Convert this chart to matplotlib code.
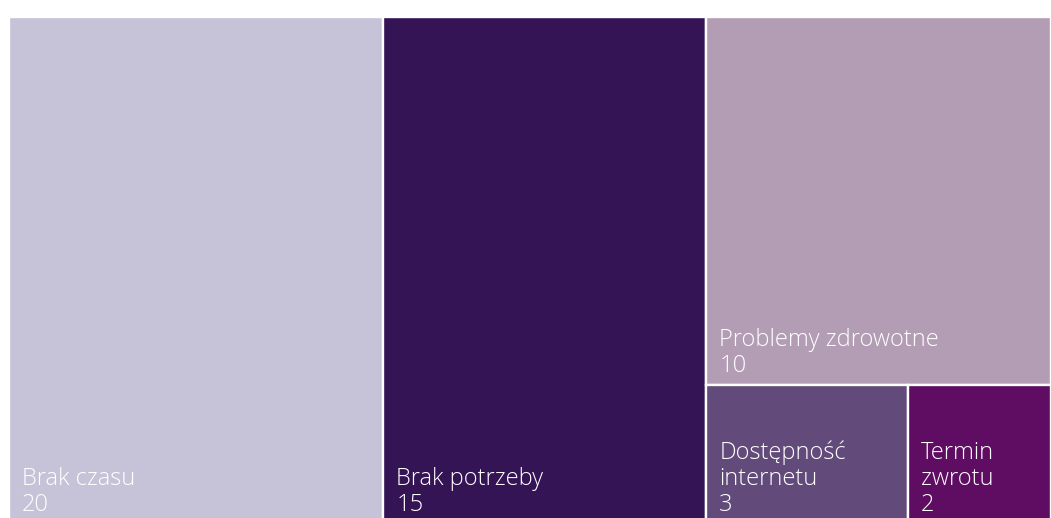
import matplotlib
matplotlib.use("Agg")
import matplotlib.pyplot as plt
from matplotlib.patches import Rectangle

# data
labels = ["Brak czasu", "Brak potrzeby", "Problemy zdrowotne", "Dostępność\ninternetu", "Termin\nzwrotu"]
values = [20, 15, 10, 3, 2]
# tile areas as drawn in the source (not strictly proportional to the values)
areas = [35.9, 31.0, 24.0, 5.31, 3.76]
colors = ["#c6c3d9", "#351456", "#b39db4", "#624a7a", "#5f0d62"]


def worst(row, side):
    s = sum(row)
    return max(max(side * side * r / (s * s), s * s / (side * side * r)) for r in row)


def squarify(sizes, x, y, w, h):
    """squarified treemap, y grows downward; sizes already scaled to w*h"""
    rects = []
    sizes = list(sizes)
    while sizes:
        side = min(w, h)
        row = [sizes.pop(0)]
        while sizes and worst(row + [sizes[0]], side) <= worst(row, side):
            row.append(sizes.pop(0))
        s = sum(row)
        if w >= h:
            # column on the left
            cw = s / h
            yy = y
            for r in row:
                rects.append((x, yy, cw, r / cw))
                yy += r / cw
            x += cw
            w -= cw
        else:
            # row on top
            rh = s / w
            xx = x
            for r in row:
                rects.append((xx, y, r / rh, rh))
                xx += r / rh
            y += rh
            h -= rh
    return rects


W, H = 1042.0, 507.0
fig = plt.figure(figsize=(10.51, 5.18), dpi=100)
ax = fig.add_axes([9 / 1051, (518 - 17 - H) / 518, W / 1051, H / 518])
ax.set_xlim(0, W)
ax.set_ylim(H, 0)
ax.axis("off")

total = sum(areas)
scaled = [a / total * W * H for a in areas]
rects = squarify(scaled, 0, 0, W, H)

for (x, y, w, h), lab, val, c in zip(rects, labels, values, colors):
    ax.add_patch(Rectangle((x, y), w, h, facecolor=c, edgecolor="white", linewidth=1.7))
    lines = lab.split("\n") + [str(val)]
    for k, line in enumerate(reversed(lines)):
        ax.annotate(line, xy=(x, y + h), xytext=(13, 13 + k * 26), textcoords="offset pixels",
                    ha="left", va="baseline", color="white", fontsize=17,
                    family="Open Sans", fontweight="light", annotation_clip=False)

fig.savefig("out.png", dpi=100)
